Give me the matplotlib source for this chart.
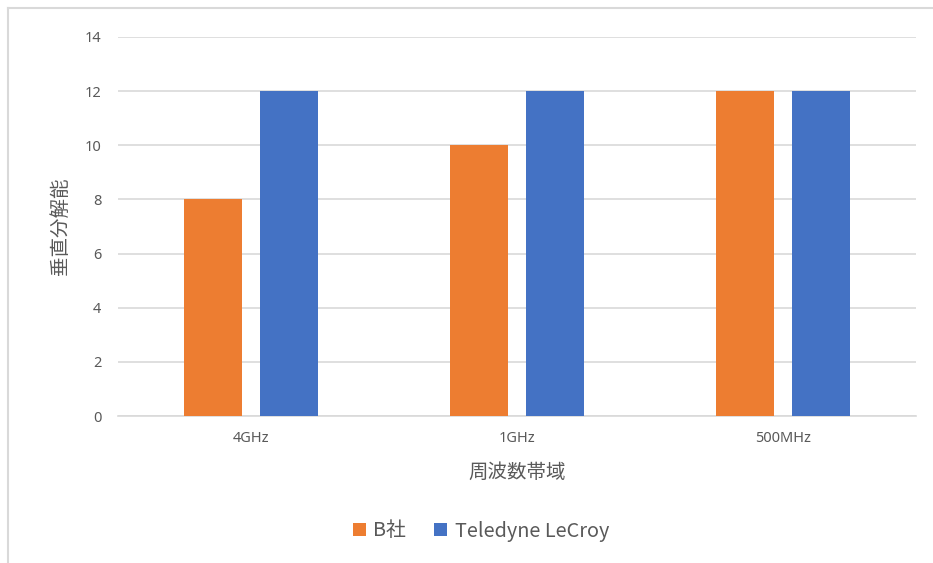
import matplotlib
matplotlib.use("Agg")
import matplotlib.pyplot as plt
import numpy as np
from matplotlib.lines import Line2D
from matplotlib.patches import Patch

plt.rcParams['font.family'] = ['Noto Sans CJK JP', 'DejaVu Sans']

categories = ["4GHz", "1GHz", "500MHz"]
series_names = ["B社", "Teledyne LeCroy"]
b_company = [8, 10, 12]
lecroy = [12, 12, 12]
y_ticks = [0, 2, 4, 6, 8, 10, 12, 14]

orange = "#ED7D31"
blue = "#4472C4"
text_col = "#595959"
grid_col = "#D9D9D9"

fig = plt.figure(figsize=(9.33, 5.63), dpi=100)
ax = fig.add_axes([118 / 933, 1 - 416 / 563, (916 - 118) / 933, (416 - 37) / 563])

x = np.arange(len(categories))
width = 0.22
offset = 0.142
ax.bar(x - offset, b_company, width, color=orange, zorder=3)
ax.bar(x + offset, lecroy, width, color=blue, zorder=3)

ax.set_xlim(-0.5, len(categories) - 0.5)
ax.set_ylim(0, 14)
ax.set_yticks(y_ticks)
ax.set_xticks(x)
ax.set_xticklabels(categories)
ax.yaxis.grid(True, color=grid_col, linewidth=1.2, zorder=0)
ax.set_axisbelow(True)
for s in ["top", "right", "left"]:
    ax.spines[s].set_visible(False)
ax.spines["bottom"].set_color(grid_col)
ax.spines["bottom"].set_linewidth(1.2)
ax.tick_params(axis="both", length=0, colors=text_col, labelsize=10.5)
ax.tick_params(axis="y", pad=12)
ax.tick_params(axis="x", pad=11)
for lab in ax.get_xticklabels() + ax.get_yticklabels():
    lab.set_family(["Noto Sans", "DejaVu Sans"])

ax.set_xlabel("周波数帯域", fontsize=14, color=text_col, labelpad=11)
ax.set_ylabel("垂直分解能", fontsize=14, color=text_col, labelpad=10)

handles = [Patch(facecolor=orange), Patch(facecolor=blue)]
leg = fig.legend(handles, series_names, loc="center", bbox_to_anchor=(481 / 933, 1 - 531 / 563),
                 ncol=2, frameon=False, handlelength=0.65, handleheight=0.65,
                 handletextpad=0.4, columnspacing=1.4,
                 prop={"family": ["Noto Sans CJK JP", "DejaVu Sans"], "size": 14.3})
for t in leg.get_texts():
    t.set_color(text_col)

# chart area frame (left and top edges)
fig.add_artist(Line2D([8 / 933, 8 / 933], [0, 1 - 8 / 563], transform=fig.transFigure,
                      color="#D9D9D9", linewidth=1.5))
fig.add_artist(Line2D([8 / 933, 1], [1 - 8 / 563, 1 - 8 / 563], transform=fig.transFigure,
                      color="#D9D9D9", linewidth=1.5))

fig.savefig("out.png", dpi=100, facecolor="white")
